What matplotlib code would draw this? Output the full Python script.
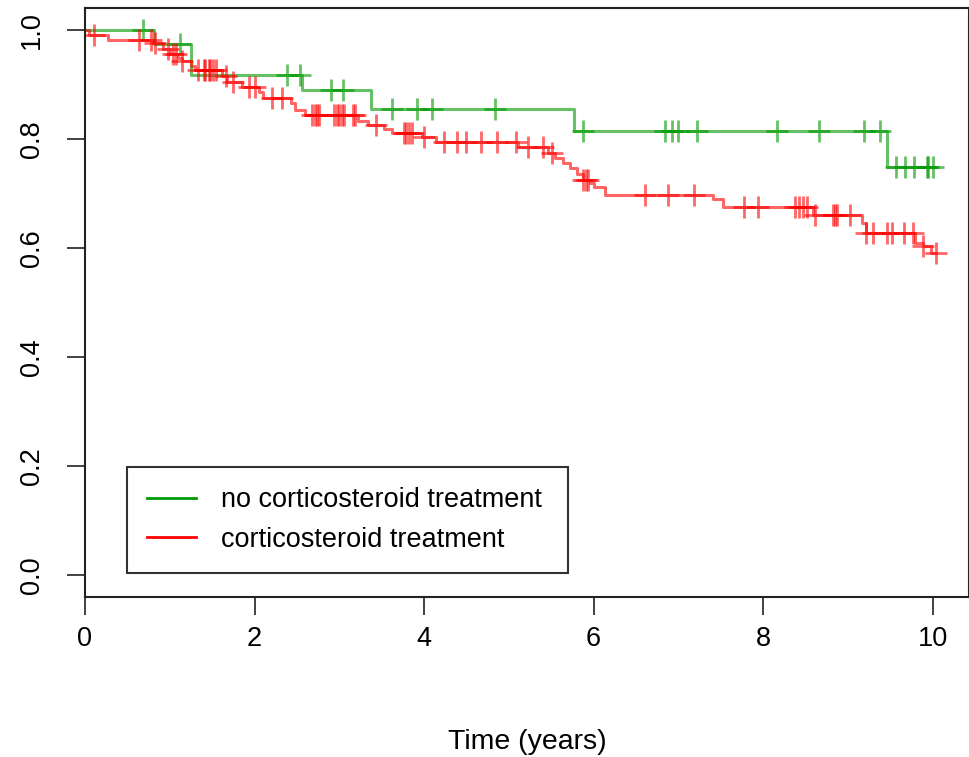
import numpy as np
import matplotlib.pyplot as plt

plt.rcParams['font.family'] = ['Liberation Sans', 'DejaVu Sans']

# Kaplan-Meier steps: drop times and the level after each drop
green_times = [0.0, 0.81, 1.25, 2.56, 3.37, 5.77, 9.46]
green_surv = [1.0, 0.974, 0.918, 0.890, 0.855, 0.814, 0.748]
green_end = 10.02
green_censor = [0.69, 1.12, 2.38, 2.54, 2.90, 3.04, 3.62, 3.92, 4.09, 4.84,
                5.88, 6.84, 6.92, 7.00, 7.22, 8.17, 8.66, 9.19, 9.38,
                9.57, 9.68, 9.78, 9.93, 9.95, 10.0]

red_times = [0.0, 0.05, 0.27, 0.80, 0.92, 1.00, 1.10, 1.15, 1.25, 1.30,
             1.62, 1.68, 1.85, 2.05, 2.10, 2.43, 2.48, 2.60, 3.22, 3.34,
             3.53, 3.62, 3.98, 4.14, 5.11, 5.46, 5.55, 5.64, 5.72, 5.81,
             5.87, 5.96, 6.00, 6.14, 7.41, 7.53, 8.59, 9.17, 9.21, 9.79,
             9.89, 9.98]
red_surv = [1.0, 0.990, 0.982, 0.976, 0.965, 0.955, 0.949, 0.943, 0.933, 0.927,
            0.915, 0.905, 0.895, 0.886, 0.875, 0.865, 0.853, 0.843, 0.832, 0.826,
            0.818, 0.811, 0.803, 0.794, 0.786, 0.775, 0.765, 0.756, 0.747, 0.736,
            0.725, 0.720, 0.712, 0.698, 0.689, 0.676, 0.661, 0.646, 0.628, 0.610,
            0.603, 0.590]
red_end = 10.04
red_censor = [0.11, 0.64, 0.78, 0.83, 0.98, 1.04, 1.07, 1.15, 1.33, 1.40,
              1.42, 1.46, 1.47, 1.51, 1.54, 1.66, 1.75, 1.93, 2.01, 2.21,
              2.33, 2.68, 2.71, 2.74, 2.76, 2.94, 2.97, 3.00, 3.03, 3.05,
              3.16, 3.19, 3.43, 3.76, 3.79, 3.82, 3.86, 4.00, 4.23, 4.39,
              4.49, 4.67, 4.86, 5.08, 5.23, 5.40, 5.51, 5.88, 5.91, 5.93,
              6.61, 6.88, 7.18, 7.77, 7.94, 8.38, 8.42, 8.47, 8.52, 8.61,
              8.82, 8.85, 8.87, 9.03, 9.21, 9.30, 9.46, 9.52, 9.66, 9.77,
              9.89, 10.04]

labels = ["no corticosteroid treatment", "corticosteroid treatment"]
colors = [(0.0, 0.6, 0.0), (1.0, 0.0, 0.0)]

fig = plt.figure(figsize=(9.69, 7.57), dpi=100)
ax = fig.add_axes([85 / 969, 160 / 757, 884 / 969, 589 / 757])


def km_curve(ax, times, surv, end, censor, color, label):
    t = np.append(times, end)
    s = np.append(surv, surv[-1])
    ax.step(t, s, where='post', color=color, lw=2.2, alpha=0.6, label=label)
    idx = np.searchsorted(times, censor, side='right') - 1
    ax.plot(censor, np.asarray(surv)[idx], '+', color=color, ms=16,
            mew=2.0, alpha=0.6, linestyle='none')


km_curve(ax, green_times, green_surv, green_end, green_censor, colors[0], labels[0])
km_curve(ax, red_times, red_surv, red_end, red_censor, colors[1], labels[1])

ax.set_xlim(0, 10.43)
ax.set_ylim(-0.04, 1.04)
ax.set_xticks([0, 2, 4, 6, 8, 10])
ax.set_yticks([0.0, 0.2, 0.4, 0.6, 0.8, 1.0])
ax.set_yticklabels(["0.0", "0.2", "0.4", "0.6", "0.8", "1.0"], rotation=90,
                   va='center')
ax.tick_params(axis='both', labelsize=19.5, length=13, width=1.3, color='#333333')
ax.tick_params(axis='y', pad=16)
ax.tick_params(axis='x', pad=8)
for sp in ax.spines.values():
    sp.set_linewidth(1.5)
    sp.set_color('#222222')

ax.set_xlabel("Time (years)", fontsize=20.5, labelpad=55)

leg = ax.legend(loc='lower left', bbox_to_anchor=(0.0476, 0.041, 0.4985, 0.183),
                mode='expand', fontsize=19.5, frameon=True, fancybox=False,
                handlelength=1.8, handletextpad=0.9, borderpad=0.75,
                labelspacing=0.5, borderaxespad=0)
leg.get_frame().set_edgecolor('black')
leg.get_frame().set_linewidth(1.5)
for h in leg.get_lines():
    h.set_alpha(1.0)
    h.set_linewidth(2)

fig.savefig("out.png", dpi=100)
